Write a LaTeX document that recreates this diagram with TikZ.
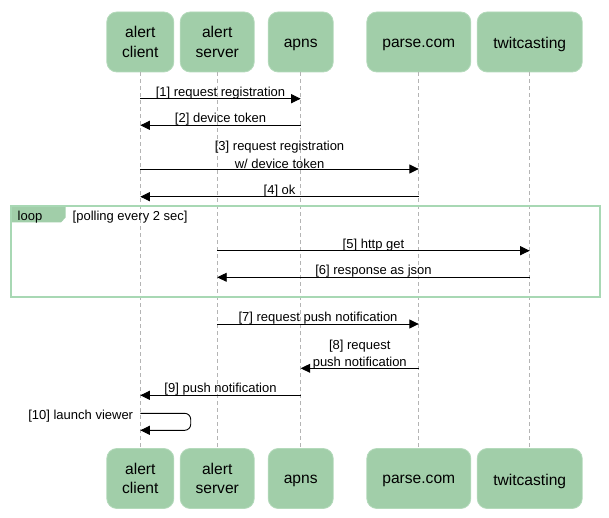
\documentclass[tikz,border=0pt]{standalone}
\usepackage{fontspec}
\setmainfont{Liberation Sans}
\usetikzlibrary{arrows.meta}
\definecolor{boxfill}{RGB}{161,206,169}
\definecolor{boxline}{RGB}{180,218,187}
\definecolor{framecol}{RGB}{168,216,180}
\definecolor{lifecol}{RGB}{180,180,180}
\newcommand{\lowtext}[1]{\raisebox{-2.8pt}[\height][\depth]{#1}}
\begin{document}
\begin{tikzpicture}[x=1pt,y=-1pt,
  participant/.style={draw=boxline, fill=boxfill, line width=0.8pt, rounded corners=10pt,
    minimum height=60pt, inner sep=0pt, align=center, font=\fontsize{15.6}{19.3}\selectfont},
  lifeline/.style={draw=lifecol, line width=0.8pt, dash pattern=on 4pt off 3pt},
  msg/.style={draw=black, line width=0.9pt, -{Triangle[length=9.5pt,width=9pt]}},
  lbl/.style={inner sep=0pt, align=center, font=\fontsize{13}{17.3}\selectfont},
  one/.style={lbl, midway, yshift=6pt},
  two/.style={lbl, midway, yshift=14pt}]
\fill[white] (0,0) rectangle (609,518);
\useasboundingbox (0,0) rectangle (609,518);
% participants (top)
\node[participant, minimum width=67pt]  (acT) at (140.3,42) {alert\\client};
\node[participant, minimum width=74pt]  (asT) at (217.2,42) {alert\\server};
\node[participant, minimum width=65pt]  (apT) at (300.7,42) {\lowtext{apns}};
\node[participant, minimum width=104pt] (pcT) at (418.8,42) {\lowtext{parse.com}};
\node[participant, minimum width=105pt] (twT) at (529.7,42) {\lowtext{twitcasting}};
% participants (bottom)
\node[participant, minimum width=67pt]  (acB) at (140.3,478.5) {alert\\client};
\node[participant, minimum width=74pt]  (asB) at (217.2,478.5) {alert\\server};
\node[participant, minimum width=65pt]  (apB) at (300.7,478.5) {\lowtext{apns}};
\node[participant, minimum width=104pt] (pcB) at (418.8,478.5) {\lowtext{parse.com}};
\node[participant, minimum width=105pt] (twB) at (529.7,478.5) {\lowtext{twitcasting}};
% lifelines
\draw[lifeline] (acT.south) -- (acB.north);
\draw[lifeline] (asT.south) -- (asB.north);
\draw[lifeline] (apT.south) -- (apB.north);
\draw[lifeline] (pcT.south) -- (pcB.north);
\draw[lifeline] (twT.south) -- (twB.north);
% loop frame
\fill[boxfill] (11,206.5) -- (65.5,206.5) -- (65.5,217.5) -- (61,222.5) -- (11,222.5) -- cycle;
\draw[framecol, line width=2pt] (11,206.5) rectangle (600,297);
\node[lbl, anchor=west] (looplbl) at (17.5,217.5) {loop};
\node[lbl, anchor=west] (loopcond) at (72.5,217.5) {[polling every 2 sec]};
% message rows
\coordinate (r1) at (0,98.7);
\coordinate (r2) at (0,125.3);
\coordinate (r3) at (0,169);
\coordinate (r4) at (0,196.7);
\coordinate (r5) at (0,250.7);
\coordinate (r6) at (0,277.3);
\coordinate (r7) at (0,324);
\coordinate (r8) at (0,368.3);
\coordinate (r9) at (0,395.3);
\coordinate (s1) at (190.7,413.3);
\coordinate (s2) at (190.7,430.3);
% messages
\draw[msg] (acT |- r1) -- (apT |- r1) node[one] {[1] request registration};
\draw[msg] (apT |- r2) -- (acT |- r2) node[one] {[2] device token};
\draw[msg] (acT |- r3) -- (pcT |- r3) node[two] {[3] request registration\\w/ device token};
\draw[msg] (pcT |- r4) -- (acT |- r4) node[one] {[4] ok};
\draw[msg] (asT |- r5) -- (twT |- r5) node[one] {[5] http get};
\draw[msg] (twT |- r6) -- (asT |- r6) node[one] {[6] response as json};
\draw[msg] (asT |- r7) -- (pcT |- r7) node[one] {[7] request push notification};
\draw[msg] (pcT |- r8) -- (apT |- r8) node[two] {[8] request\\push notification};
\draw[msg] (apT |- r9) -- (acT |- r9) node[one] {[9] push notification};
\draw[msg, rounded corners=6pt] (acT |- s1) -- (s1) -- (s2) -- (acT |- s2);
\node[lbl, anchor=east] (selflbl) at ([xshift=-7pt,yshift=-3pt]acT |- s1) {[10] launch viewer};
\end{tikzpicture}
\end{document}
